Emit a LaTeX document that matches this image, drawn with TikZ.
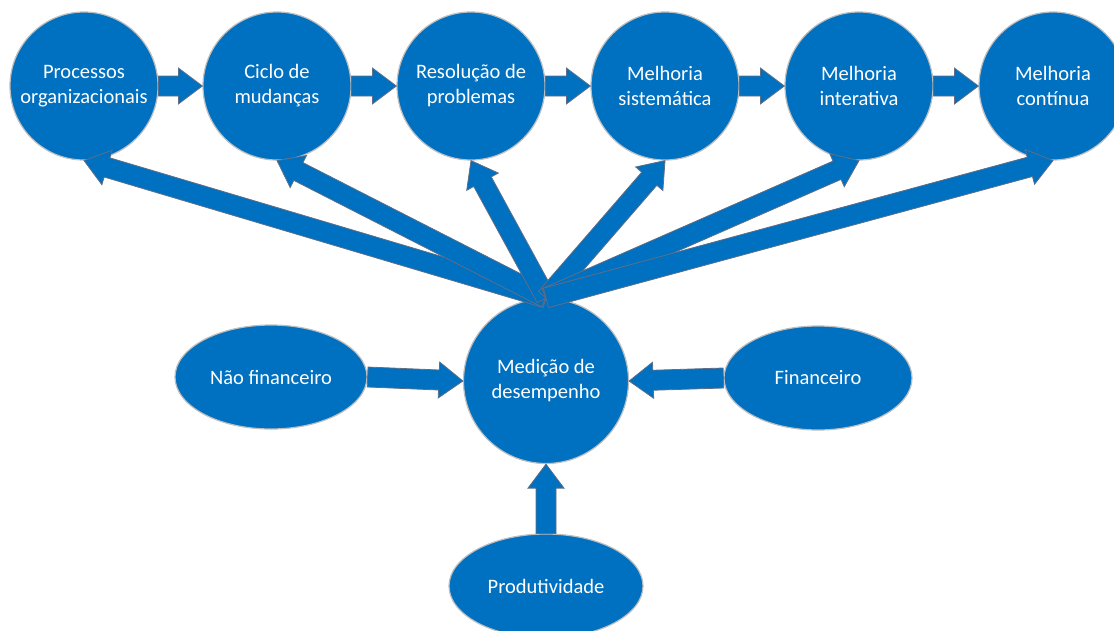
\documentclass[tikz,border=0pt]{standalone}
\usepackage{fontspec}
\setmainfont{Carlito}
\usetikzlibrary{shapes.geometric,calc}
\definecolor{obl}{RGB}{0,112,192}
\definecolor{ring}{RGB}{190,190,190}
\definecolor{arrline}{RGB}{95,110,135}
\tikzset{
  bub/.style={circle,fill=obl,draw=ring,line width=1.2pt,minimum size=148pt,inner sep=0pt,
    text=white,align=center,font=\fontsize{20.5}{25}\selectfont},
  ell/.style={ellipse,fill=obl,draw=ring,line width=1.2pt,minimum width=192pt,minimum height=104pt,inner sep=0pt,
    text=white,align=center,font=\fontsize{20.5}{25}\selectfont},
  barrowstyle/.style={fill=obl,draw=arrline,line width=0.8pt,line join=miter}
}
\newcommand\barrow[3]{%
  \coordinate (#3b) at ($(#2)!24pt!(#1)$);
  \filldraw[barrowstyle] ($(#1)!10pt!90:(#2)$) -- ($(#3b)!10pt!90:(#2)$) -- ($(#3b)!18pt!90:(#2)$) -- (#2)
    -- ($(#3b)!18pt!-90:(#2)$) -- ($(#3b)!10pt!-90:(#2)$) -- ($(#1)!10pt!-90:(#2)$) -- cycle;}
\begin{document}
\begin{tikzpicture}[x=1pt,y=-1pt]
\useasboundingbox (0,0) rectangle (1114,630);
\clip (0,0) rectangle (1114,630);
% top row
\node[bub] (c1) at (84,86) {Processos\\organizacionais};
\node[bub] (c2) at (277,86) {Ciclo de\\mudanças};
\node[bub] (c3) at (471,86) {Resolução de\\problemas};
\node[bub] (c4) at (665,86) {Melhoria\\sistemática};
\node[bub] (c5) at (859,86) {Melhoria\\interativa};
\node[bub] (c6) at (1053,86) {Melhoria\\contínua};
% centre and inputs
\node[bub,minimum size=165pt] (m) at (546,381) {Medição de\\desempenho};
\node[ell] (e1) at (271,377) {Não financeiro};
\node[ell,minimum width=188pt] (e2) at (818,378) {Financeiro};
\node[ell,minimum width=194pt] (e3) at (546,586) {Produtividade};
% horizontal arrows
\barrow{c1.east}{c2.west}{h1}
\barrow{c2.east}{c3.west}{h2}
\barrow{c3.east}{c4.west}{h3}
\barrow{c4.east}{c5.west}{h4}
\barrow{c5.east}{c6.west}{h5}
% input arrows
\barrow{e1.east}{m.west}{i1}
\barrow{e2.west}{m.east}{i2}
\barrow{e3.north}{m.south}{i3}
% fan arrows
\barrow{m.north}{c1.south}{f1}
\barrow{m.north}{c2.south}{f2}
\barrow{m.north}{c3.south}{f3}
\barrow{m.north}{c4.south}{f4}
\barrow{m.north}{c5.south}{f5}
\barrow{m.north}{c6.south}{f6}
\end{tikzpicture}
\end{document}
